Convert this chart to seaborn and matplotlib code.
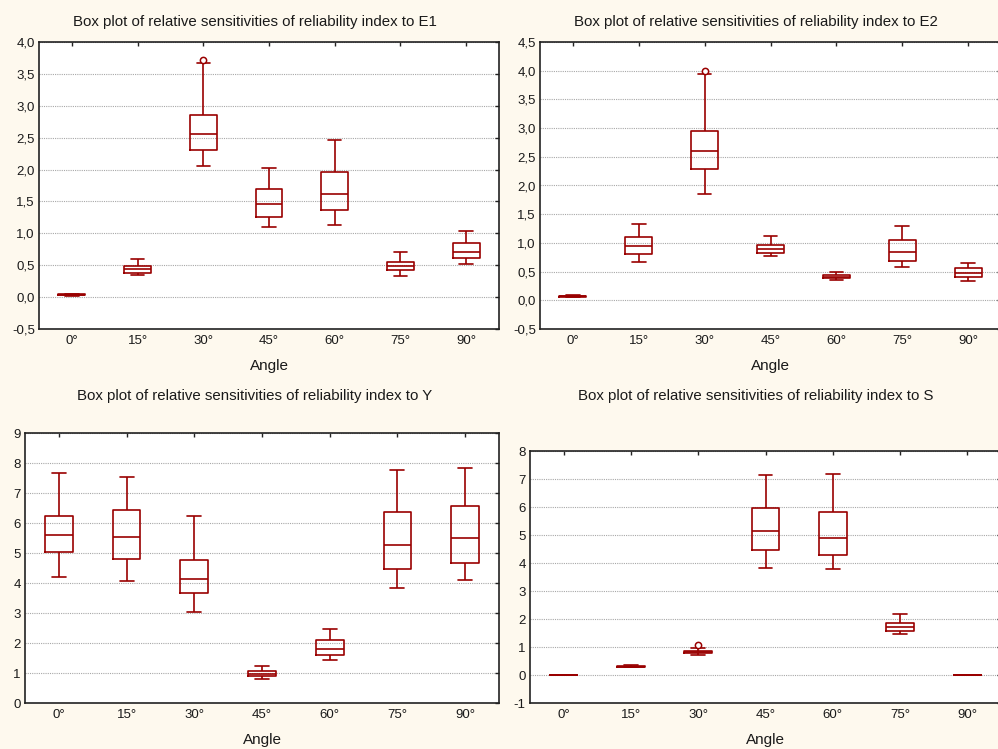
import numpy as np
import pandas as pd
import matplotlib
matplotlib.use("Agg")
import matplotlib.pyplot as plt
from matplotlib.ticker import FuncFormatter, MultipleLocator
import seaborn as sns

# ---------------- data ----------------
angles = ["0°", "15°", "30°", "45°", "60°", "75°", "90°"]

# E1
e1_low = [0.02, 0.34, 2.05, 1.10, 1.13, 0.33, 0.52]
e1_q1 = [0.03, 0.38, 2.31, 1.26, 1.36, 0.43, 0.62]
e1_med = [0.04, 0.44, 2.555, 1.455, 1.615, 0.49, 0.715]
e1_q3 = [0.045, 0.495, 2.86, 1.69, 1.965, 0.545, 0.845]
e1_high = [0.05, 0.59, 3.675, 2.02, 2.465, 0.70, 1.03]
e1_out = [np.nan, np.nan, 3.72, np.nan, np.nan, np.nan, np.nan]

# E2
e2_low = [0.05, 0.665, 1.855, 0.765, 0.355, 0.575, 0.33]
e2_q1 = [0.06, 0.80, 2.28, 0.823, 0.382, 0.678, 0.40]
e2_med = [0.07, 0.94, 2.595, 0.886, 0.411, 0.84, 0.475]
e2_q3 = [0.075, 1.095, 2.95, 0.956, 0.435, 1.054, 0.556]
e2_high = [0.09, 1.333, 3.95, 1.124, 0.498, 1.286, 0.655]
e2_out = [np.nan, np.nan, 4.0, np.nan, np.nan, np.nan, np.nan]

# Y
y_low = [4.20, 4.08, 3.02, 0.81, 1.42, 3.84, 4.09]
y_q1 = [5.03, 4.79, 3.66, 0.898, 1.585, 4.457, 4.678]
y_med = [5.60, 5.53, 4.15, 0.976, 1.796, 5.277, 5.499]
y_q3 = [6.24, 6.44, 4.76, 1.064, 2.084, 6.36, 6.574]
y_high = [7.67, 7.52, 6.23, 1.22, 2.46, 7.76, 7.827]
y_out = [np.nan] * 7

# S
s_low = [0.0, 0.27, 0.73, 3.82, 3.80, 1.452, 0.0]
s_q1 = [0.0, 0.29, 0.79, 4.476, 4.286, 1.583, 0.0]
s_med = [0.0, 0.30, 0.83, 5.13, 4.905, 1.714, 0.0]
s_q3 = [0.0, 0.32, 0.87, 5.96, 5.82, 1.857, 0.0]
s_high = [0.0, 0.35, 0.98, 7.13, 7.167, 2.18, 0.0]
s_out = [np.nan, np.nan, 1.06, np.nan, np.nan, np.nan, np.nan]

titles = [
    "Box plot of relative sensitivities of reliability index to E1",
    "Box plot of relative sensitivities of reliability index to E2",
    "Box plot of relative sensitivities of reliability index to Y",
    "Box plot of relative sensitivities of reliability index to S",
]
x_label = "Angle"


def build_frame(low, q1, med, q3, high, out):
    """Build a small sample per angle whose quartiles/whiskers equal the read values."""
    rows = []
    for a, lo, a1, m, a3, hi, o in zip(angles, low, q1, med, q3, high, out):
        vals = [lo, a1, a1, m, m, m, a3]
        vals += [a3, hi] if np.isnan(o) else [hi, o]
        rows += [(a, v) for v in vals]
    return pd.DataFrame(rows, columns=["angle", "value"])


panels = [
    (build_frame(e1_low, e1_q1, e1_med, e1_q3, e1_high, e1_out), (-0.5, 4.0), 0.5, True),
    (build_frame(e2_low, e2_q1, e2_med, e2_q3, e2_high, e2_out), (-0.5, 4.5), 0.5, True),
    (build_frame(y_low, y_q1, y_med, y_q3, y_high, y_out), (0, 9), 1, False),
    (build_frame(s_low, s_q1, s_med, s_q3, s_high, s_out), (-1, 8), 1, False),
]

# ---------------- style ----------------
sns.set_style("white")
plt.rcParams["font.family"] = ["Liberation Sans", "DejaVu Sans"]

bg = "#FEF9EE"
box_color = "#990000"

fig = plt.figure(figsize=(9.98, 7.49), dpi=100, facecolor=bg)
W, H = 998.0, 749.0

# axes rectangles in pixels: (left, top, right, bottom)
rects = [
    (39, 42, 499, 329),
    (540, 42, 1001, 329),
    (25, 433, 499, 703),
    (530, 451, 1001, 703),
]
title_pos = [(255, 22), (756, 22), (255, 396), (756, 396)]

for (df, ylim, step, comma), (l, t, r, b), tt, (tx, ty) in zip(panels, rects, titles, title_pos):
    ax = fig.add_axes([l / W, 1 - b / H, (r - l) / W, (b - t) / H])
    ax.set_facecolor("white")
    sns.boxplot(
        data=df, x="angle", y="value", order=angles, ax=ax,
        color=box_color, fill=False, width=0.41, whis=1.5, linewidth=1.2,
        flierprops=dict(marker="o", markersize=4.5, markerfacecolor="white",
                        markeredgecolor=box_color, markeredgewidth=1.1),
    )
    ax.set_ylim(*ylim)
    ax.set_xlim(-0.5, len(angles) - 0.5)
    ax.yaxis.set_major_locator(MultipleLocator(step))
    if comma:
        ax.yaxis.set_major_formatter(FuncFormatter(lambda v, p: f"{v:.1f}".replace(".", ",").replace("-0,0", "0,0")))
    else:
        ax.yaxis.set_major_formatter(FuncFormatter(lambda v, p: f"{v:.0f}"))
    ax.yaxis.grid(True, linestyle=(0, (1, 1)), color="#a8a8a8", linewidth=0.8)
    ax.xaxis.grid(False)
    ax.set_axisbelow(True)
    for sp in ax.spines.values():
        sp.set_visible(True)
        sp.set_color("#222222")
        sp.set_linewidth(1.2)
    ax.tick_params(axis="both", direction="in", length=3, width=1.0, colors="#222222",
                   labelsize=9.5, labelcolor="#1a1a1a", top=True, right=True, pad=4)
    ax.tick_params(axis="y", pad=3)
    ax.set_xlabel(x_label, fontsize=11, color="#1a1a1a", labelpad=9)
    ax.set_ylabel("")
    fig.text(tx / W, 1 - ty / H, tt, ha="center", va="center", fontsize=10.8, color="#1a1a1a")

fig.savefig("out.png", dpi=100, facecolor=bg)
